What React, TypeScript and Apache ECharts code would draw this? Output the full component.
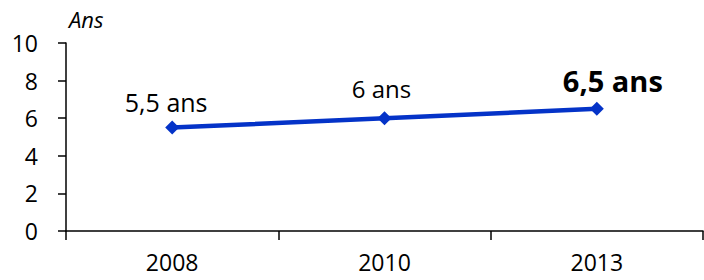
import React, { useEffect, useRef } from "react";
import * as echarts from "echarts";

const categories = ["2008", "2010", "2013"];
const values = [5.5, 6, 6.5];
const pointLabels = ["5,5 ans", "6 ans", "6,5 ans"];
const yTicks = { min: 0, max: 10, interval: 2 };
const unitLabel = "Ans";

const FONT = "'Open Sans', sans-serif";

export default function App() {
  const ref = useRef<HTMLDivElement>(null);
  useEffect(() => {
    if (!ref.current) return;
    const chart = echarts.init(ref.current, undefined, { renderer: "svg" });
    const labelStyles = [
      { distance: 6, offset: [-6, 0], fontSize: 25, fontWeight: "normal" },
      { distance: 11, offset: [-3, 0], fontSize: 24, fontWeight: "normal" },
      { distance: 7, offset: [16, 0], fontSize: 29, fontWeight: "bold" },
    ];
    chart.setOption({
      animation: false,
      grid: { left: 66, right: 1, top: 43, bottom: 49, containLabel: false },
      xAxis: {
        type: "category",
        data: categories,
        boundaryGap: true,
        axisLine: { lineStyle: { color: "#000", width: 1.5 } },
        axisTick: { show: true, length: 9, lineStyle: { color: "#000", width: 1.5 } },
        axisLabel: { color: "#000", fontSize: 23, lineHeight: 18, fontFamily: FONT, margin: 22 },
      },
      yAxis: {
        type: "value",
        min: yTicks.min,
        max: yTicks.max,
        interval: yTicks.interval,
        splitLine: { show: false },
        axisLine: { show: true, lineStyle: { color: "#000", width: 1.5 } },
        axisTick: { show: true, length: 8, lineStyle: { color: "#000", width: 1.5 } },
        axisLabel: { color: "#000", fontSize: 23, fontFamily: FONT, margin: 28 },
      },
      graphic: [
        {
          type: "text",
          left: 69,
          top: 8,
          style: { text: unitLabel, fontSize: 22, fontStyle: "italic", fontFamily: FONT, fill: "#000" },
        },
      ],
      series: [
        {
          type: "line",
          data: values.map((v, i) => ({
            value: v,
            label: {
              show: true,
              position: "top",
              formatter: pointLabels[i],
              color: "#000",
              fontFamily: FONT,
              ...labelStyles[i],
            },
          })),
          symbol: "diamond",
          symbolSize: 14,
          lineStyle: { color: "#0433c8", width: 4.5 },
          itemStyle: { color: "#0433c8" },
        },
      ],
    });
    return () => chart.dispose();
  }, []);
  return <div ref={ref} style={{ width: 704, height: 280, position: "absolute", left: 0, top: 0, background: "#fff" }} />;
}
